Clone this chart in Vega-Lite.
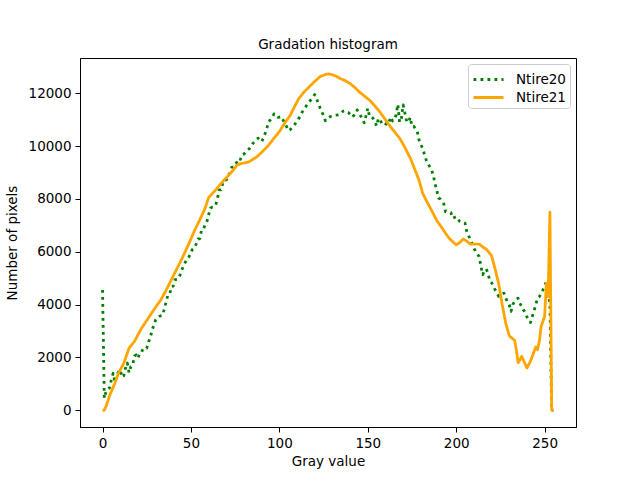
{
  "$schema": "https://vega.github.io/schema/vega-lite/v6.json",
  "width": 496,
  "height": 369,
  "autosize": {"type": "none"},
  "padding": {"left": 80, "top": 58, "right": 64, "bottom": 53},
  "background": "white",
  "title": {"text": "Gradation histogram", "fontSize": 13.5, "font": "DejaVu Sans", "fontWeight": "normal", "color": "black", "offset": 7, "anchor": "middle"},
  "data": {"values": [
{"s":"Ntire20","g":0,"n":4550},{"s":"Ntire20","g":1,"n":450},{"s":"Ntire20","g":2,"n":720},{"s":"Ntire20","g":3,"n":800},{"s":"Ntire20","g":4,"n":850},{"s":"Ntire20","g":5,"n":1150},{"s":"Ntire20","g":6,"n":1400},{"s":"Ntire20","g":7,"n":1050},{"s":"Ntire20","g":8,"n":1300},{"s":"Ntire20","g":9,"n":1450},
{"s":"Ntire20","g":10,"n":1530},{"s":"Ntire20","g":11,"n":1250},{"s":"Ntire20","g":12,"n":1300},{"s":"Ntire20","g":13,"n":1600},{"s":"Ntire20","g":14,"n":1790},{"s":"Ntire20","g":15,"n":1420},{"s":"Ntire20","g":16,"n":1650},{"s":"Ntire20","g":17,"n":1700},{"s":"Ntire20","g":18,"n":2050},{"s":"Ntire20","g":19,"n":2100},
{"s":"Ntire20","g":20,"n":1970},{"s":"Ntire20","g":21,"n":2150},{"s":"Ntire20","g":22,"n":2180},{"s":"Ntire20","g":23,"n":2350},{"s":"Ntire20","g":24,"n":2340},{"s":"Ntire20","g":25,"n":2350},{"s":"Ntire20","g":26,"n":2600},{"s":"Ntire20","g":27,"n":2730},{"s":"Ntire20","g":28,"n":3050},{"s":"Ntire20","g":29,"n":3200},
{"s":"Ntire20","g":30,"n":3420},{"s":"Ntire20","g":31,"n":3500},{"s":"Ntire20","g":32,"n":3550},{"s":"Ntire20","g":33,"n":3580},{"s":"Ntire20","g":34,"n":3600},{"s":"Ntire20","g":35,"n":3850},{"s":"Ntire20","g":36,"n":4120},{"s":"Ntire20","g":37,"n":4370},{"s":"Ntire20","g":38,"n":4400},{"s":"Ntire20","g":39,"n":4680},
{"s":"Ntire20","g":40,"n":4700},{"s":"Ntire20","g":41,"n":4940},{"s":"Ntire20","g":42,"n":4950},{"s":"Ntire20","g":43,"n":5000},{"s":"Ntire20","g":44,"n":5150},{"s":"Ntire20","g":45,"n":5340},{"s":"Ntire20","g":46,"n":5500},{"s":"Ntire20","g":47,"n":5630},{"s":"Ntire20","g":48,"n":5750},{"s":"Ntire20","g":49,"n":5820},
{"s":"Ntire20","g":50,"n":6000},{"s":"Ntire20","g":51,"n":6100},{"s":"Ntire20","g":52,"n":6150},{"s":"Ntire20","g":53,"n":6300},{"s":"Ntire20","g":54,"n":6480},{"s":"Ntire20","g":55,"n":6500},{"s":"Ntire20","g":56,"n":6830},{"s":"Ntire20","g":57,"n":6850},{"s":"Ntire20","g":58,"n":7020},{"s":"Ntire20","g":59,"n":7140},
{"s":"Ntire20","g":60,"n":7400},{"s":"Ntire20","g":61,"n":7650},{"s":"Ntire20","g":62,"n":7690},{"s":"Ntire20","g":63,"n":7700},{"s":"Ntire20","g":64,"n":7770},{"s":"Ntire20","g":65,"n":8030},{"s":"Ntire20","g":66,"n":8340},{"s":"Ntire20","g":67,"n":8340},{"s":"Ntire20","g":68,"n":8600},{"s":"Ntire20","g":69,"n":8720},
{"s":"Ntire20","g":70,"n":8720},{"s":"Ntire20","g":71,"n":8900},{"s":"Ntire20","g":72,"n":8970},{"s":"Ntire20","g":73,"n":9190},{"s":"Ntire20","g":74,"n":9200},{"s":"Ntire20","g":75,"n":9300},{"s":"Ntire20","g":76,"n":9400},{"s":"Ntire20","g":77,"n":9540},{"s":"Ntire20","g":78,"n":9500},{"s":"Ntire20","g":79,"n":9670},
{"s":"Ntire20","g":80,"n":9700},{"s":"Ntire20","g":81,"n":9770},{"s":"Ntire20","g":82,"n":9850},{"s":"Ntire20","g":83,"n":9900},{"s":"Ntire20","g":84,"n":9980},{"s":"Ntire20","g":85,"n":10100},{"s":"Ntire20","g":86,"n":10170},{"s":"Ntire20","g":87,"n":10250},{"s":"Ntire20","g":88,"n":10300},{"s":"Ntire20","g":89,"n":10200},
{"s":"Ntire20","g":90,"n":10170},{"s":"Ntire20","g":91,"n":10300},{"s":"Ntire20","g":92,"n":10490},{"s":"Ntire20","g":93,"n":10700},{"s":"Ntire20","g":94,"n":10930},{"s":"Ntire20","g":95,"n":11000},{"s":"Ntire20","g":96,"n":11090},{"s":"Ntire20","g":97,"n":11220},{"s":"Ntire20","g":98,"n":11150},{"s":"Ntire20","g":99,"n":11090},
{"s":"Ntire20","g":100,"n":11100},{"s":"Ntire20","g":101,"n":11120},{"s":"Ntire20","g":102,"n":11000},{"s":"Ntire20","g":103,"n":10870},{"s":"Ntire20","g":104,"n":10750},{"s":"Ntire20","g":105,"n":10590},{"s":"Ntire20","g":106,"n":10620},{"s":"Ntire20","g":107,"n":10680},{"s":"Ntire20","g":108,"n":10740},{"s":"Ntire20","g":109,"n":10850},
{"s":"Ntire20","g":110,"n":10950},{"s":"Ntire20","g":111,"n":11050},{"s":"Ntire20","g":112,"n":11150},{"s":"Ntire20","g":113,"n":11300},{"s":"Ntire20","g":114,"n":11400},{"s":"Ntire20","g":115,"n":11500},{"s":"Ntire20","g":116,"n":11600},{"s":"Ntire20","g":117,"n":11680},{"s":"Ntire20","g":118,"n":11770},{"s":"Ntire20","g":119,"n":11850},
{"s":"Ntire20","g":120,"n":11950},{"s":"Ntire20","g":121,"n":11800},{"s":"Ntire20","g":122,"n":11620},{"s":"Ntire20","g":123,"n":11450},{"s":"Ntire20","g":124,"n":11300},{"s":"Ntire20","g":125,"n":11150},{"s":"Ntire20","g":126,"n":10960},{"s":"Ntire20","g":127,"n":11020},{"s":"Ntire20","g":128,"n":11080},{"s":"Ntire20","g":129,"n":11120},
{"s":"Ntire20","g":130,"n":11140},{"s":"Ntire20","g":131,"n":11160},{"s":"Ntire20","g":132,"n":11170},{"s":"Ntire20","g":133,"n":11180},{"s":"Ntire20","g":134,"n":11200},{"s":"Ntire20","g":135,"n":11260},{"s":"Ntire20","g":136,"n":11320},{"s":"Ntire20","g":137,"n":11340},{"s":"Ntire20","g":138,"n":11300},{"s":"Ntire20","g":139,"n":11270},
{"s":"Ntire20","g":140,"n":11200},{"s":"Ntire20","g":141,"n":11100},{"s":"Ntire20","g":142,"n":11150},{"s":"Ntire20","g":143,"n":11250},{"s":"Ntire20","g":144,"n":11370},{"s":"Ntire20","g":145,"n":11250},{"s":"Ntire20","g":146,"n":11140},{"s":"Ntire20","g":147,"n":11000},{"s":"Ntire20","g":148,"n":10880},{"s":"Ntire20","g":149,"n":11150},
{"s":"Ntire20","g":150,"n":11430},{"s":"Ntire20","g":151,"n":11120},{"s":"Ntire20","g":152,"n":11120},{"s":"Ntire20","g":153,"n":11050},{"s":"Ntire20","g":154,"n":10930},{"s":"Ntire20","g":155,"n":10760},{"s":"Ntire20","g":156,"n":11050},{"s":"Ntire20","g":157,"n":10980},{"s":"Ntire20","g":158,"n":10850},{"s":"Ntire20","g":159,"n":10900},
{"s":"Ntire20","g":160,"n":10850},{"s":"Ntire20","g":161,"n":10800},{"s":"Ntire20","g":162,"n":10900},{"s":"Ntire20","g":163,"n":11100},{"s":"Ntire20","g":164,"n":10950},{"s":"Ntire20","g":165,"n":11000},{"s":"Ntire20","g":166,"n":11180},{"s":"Ntire20","g":167,"n":11580},{"s":"Ntire20","g":168,"n":10900},{"s":"Ntire20","g":169,"n":11050},
{"s":"Ntire20","g":170,"n":11560},{"s":"Ntire20","g":171,"n":11240},{"s":"Ntire20","g":172,"n":10930},{"s":"Ntire20","g":173,"n":10900},{"s":"Ntire20","g":174,"n":11090},{"s":"Ntire20","g":175,"n":10740},{"s":"Ntire20","g":176,"n":10750},{"s":"Ntire20","g":177,"n":10650},{"s":"Ntire20","g":178,"n":10550},{"s":"Ntire20","g":179,"n":10230},
{"s":"Ntire20","g":180,"n":10050},{"s":"Ntire20","g":181,"n":9920},{"s":"Ntire20","g":182,"n":9700},{"s":"Ntire20","g":183,"n":9480},{"s":"Ntire20","g":184,"n":9350},{"s":"Ntire20","g":185,"n":9220},{"s":"Ntire20","g":186,"n":9100},{"s":"Ntire20","g":187,"n":8910},{"s":"Ntire20","g":188,"n":8580},{"s":"Ntire20","g":189,"n":8320},
{"s":"Ntire20","g":190,"n":8030},{"s":"Ntire20","g":191,"n":8000},{"s":"Ntire20","g":192,"n":7900},{"s":"Ntire20","g":193,"n":7810},{"s":"Ntire20","g":194,"n":7520},{"s":"Ntire20","g":195,"n":7500},{"s":"Ntire20","g":196,"n":7500},{"s":"Ntire20","g":197,"n":7480},{"s":"Ntire20","g":198,"n":7270},{"s":"Ntire20","g":199,"n":7300},
{"s":"Ntire20","g":200,"n":7330},{"s":"Ntire20","g":201,"n":7250},{"s":"Ntire20","g":202,"n":7140},{"s":"Ntire20","g":203,"n":7100},{"s":"Ntire20","g":204,"n":7090},{"s":"Ntire20","g":205,"n":7080},{"s":"Ntire20","g":206,"n":6760},{"s":"Ntire20","g":207,"n":6600},{"s":"Ntire20","g":208,"n":6480},{"s":"Ntire20","g":209,"n":6300},
{"s":"Ntire20","g":210,"n":6140},{"s":"Ntire20","g":211,"n":6000},{"s":"Ntire20","g":212,"n":5900},{"s":"Ntire20","g":213,"n":5820},{"s":"Ntire20","g":214,"n":5440},{"s":"Ntire20","g":215,"n":5130},{"s":"Ntire20","g":216,"n":5300},{"s":"Ntire20","g":217,"n":5340},{"s":"Ntire20","g":218,"n":5190},{"s":"Ntire20","g":219,"n":4900},
{"s":"Ntire20","g":220,"n":4830},{"s":"Ntire20","g":221,"n":4700},{"s":"Ntire20","g":222,"n":4560},{"s":"Ntire20","g":223,"n":4450},{"s":"Ntire20","g":224,"n":4310},{"s":"Ntire20","g":225,"n":4350},{"s":"Ntire20","g":226,"n":4400},{"s":"Ntire20","g":227,"n":4430},{"s":"Ntire20","g":228,"n":4250},{"s":"Ntire20","g":229,"n":4100},
{"s":"Ntire20","g":230,"n":3990},{"s":"Ntire20","g":231,"n":3740},{"s":"Ntire20","g":232,"n":4000},{"s":"Ntire20","g":233,"n":4120},{"s":"Ntire20","g":234,"n":4200},{"s":"Ntire20","g":235,"n":4240},{"s":"Ntire20","g":236,"n":4050},{"s":"Ntire20","g":237,"n":3930},{"s":"Ntire20","g":238,"n":3800},{"s":"Ntire20","g":239,"n":3700},
{"s":"Ntire20","g":240,"n":3530},{"s":"Ntire20","g":241,"n":3400},{"s":"Ntire20","g":242,"n":3320},{"s":"Ntire20","g":243,"n":3550},{"s":"Ntire20","g":244,"n":3750},{"s":"Ntire20","g":245,"n":4000},{"s":"Ntire20","g":246,"n":4240},{"s":"Ntire20","g":247,"n":4300},{"s":"Ntire20","g":248,"n":4410},{"s":"Ntire20","g":249,"n":4550},
{"s":"Ntire20","g":250,"n":4700},{"s":"Ntire20","g":251,"n":4870},{"s":"Ntire20","g":252,"n":4500},{"s":"Ntire20","g":253,"n":4000},{"s":"Ntire20","g":254,"n":0},{"s":"Ntire20","g":255,"n":0},
{"s":"Ntire21","g":0,"n":0},{"s":"Ntire21","g":1,"n":0},{"s":"Ntire21","g":2,"n":150},{"s":"Ntire21","g":4,"n":550},{"s":"Ntire21","g":7,"n":1030},{"s":"Ntire21","g":9,"n":1400},{"s":"Ntire21","g":12,"n":1780},{"s":"Ntire21","g":15,"n":2350},{"s":"Ntire21","g":17,"n":2520},{"s":"Ntire21","g":18,"n":2600},
{"s":"Ntire21","g":20,"n":2850},{"s":"Ntire21","g":22,"n":3100},{"s":"Ntire21","g":25,"n":3400},{"s":"Ntire21","g":28,"n":3700},{"s":"Ntire21","g":30,"n":3900},{"s":"Ntire21","g":33,"n":4180},{"s":"Ntire21","g":36,"n":4550},{"s":"Ntire21","g":39,"n":4950},{"s":"Ntire21","g":42,"n":5350},{"s":"Ntire21","g":45,"n":5750},
{"s":"Ntire21","g":49,"n":6330},{"s":"Ntire21","g":52,"n":6800},{"s":"Ntire21","g":55,"n":7210},{"s":"Ntire21","g":58,"n":7650},{"s":"Ntire21","g":60,"n":8050},{"s":"Ntire21","g":62,"n":8200},{"s":"Ntire21","g":64,"n":8340},{"s":"Ntire21","g":66,"n":8500},{"s":"Ntire21","g":68,"n":8660},{"s":"Ntire21","g":70,"n":8800},
{"s":"Ntire21","g":72,"n":8950},{"s":"Ntire21","g":74,"n":9100},{"s":"Ntire21","g":76,"n":9280},{"s":"Ntire21","g":78,"n":9330},{"s":"Ntire21","g":80,"n":9360},{"s":"Ntire21","g":83,"n":9410},{"s":"Ntire21","g":85,"n":9500},{"s":"Ntire21","g":87,"n":9580},{"s":"Ntire21","g":89,"n":9700},{"s":"Ntire21","g":91,"n":9830},
{"s":"Ntire21","g":94,"n":10040},{"s":"Ntire21","g":97,"n":10300},{"s":"Ntire21","g":100,"n":10550},{"s":"Ntire21","g":103,"n":10870},{"s":"Ntire21","g":106,"n":11150},{"s":"Ntire21","g":109,"n":11550},{"s":"Ntire21","g":111,"n":11800},{"s":"Ntire21","g":114,"n":12050},{"s":"Ntire21","g":117,"n":12250},{"s":"Ntire21","g":120,"n":12450},
{"s":"Ntire21","g":123,"n":12630},{"s":"Ntire21","g":126,"n":12710},{"s":"Ntire21","g":128,"n":12730},{"s":"Ntire21","g":130,"n":12700},{"s":"Ntire21","g":132,"n":12650},{"s":"Ntire21","g":134,"n":12570},{"s":"Ntire21","g":137,"n":12480},{"s":"Ntire21","g":140,"n":12370},{"s":"Ntire21","g":143,"n":12200},{"s":"Ntire21","g":145,"n":12060},
{"s":"Ntire21","g":148,"n":11900},{"s":"Ntire21","g":151,"n":11740},{"s":"Ntire21","g":154,"n":11520},{"s":"Ntire21","g":157,"n":11280},{"s":"Ntire21","g":160,"n":11000},{"s":"Ntire21","g":162,"n":10800},{"s":"Ntire21","g":165,"n":10550},{"s":"Ntire21","g":168,"n":10300},{"s":"Ntire21","g":171,"n":9950},{"s":"Ntire21","g":174,"n":9550},
{"s":"Ntire21","g":177,"n":9050},{"s":"Ntire21","g":179,"n":8700},{"s":"Ntire21","g":181,"n":8220},{"s":"Ntire21","g":183,"n":7950},{"s":"Ntire21","g":185,"n":7700},{"s":"Ntire21","g":187,"n":7450},{"s":"Ntire21","g":189,"n":7180},{"s":"Ntire21","g":192,"n":6900},{"s":"Ntire21","g":194,"n":6700},{"s":"Ntire21","g":196,"n":6510},
{"s":"Ntire21","g":198,"n":6380},{"s":"Ntire21","g":200,"n":6260},{"s":"Ntire21","g":202,"n":6350},{"s":"Ntire21","g":204,"n":6480},{"s":"Ntire21","g":206,"n":6400},{"s":"Ntire21","g":208,"n":6290},{"s":"Ntire21","g":211,"n":6290},{"s":"Ntire21","g":213,"n":6290},{"s":"Ntire21","g":215,"n":6180},{"s":"Ntire21","g":217,"n":6100},
{"s":"Ntire21","g":220,"n":5850},{"s":"Ntire21","g":222,"n":5350},{"s":"Ntire21","g":224,"n":4800},{"s":"Ntire21","g":226,"n":4000},{"s":"Ntire21","g":228,"n":3300},{"s":"Ntire21","g":230,"n":2820},{"s":"Ntire21","g":232,"n":2700},{"s":"Ntire21","g":233,"n":2650},{"s":"Ntire21","g":234,"n":2300},{"s":"Ntire21","g":235,"n":1800},
{"s":"Ntire21","g":236,"n":1900},{"s":"Ntire21","g":237,"n":2040},{"s":"Ntire21","g":238,"n":1900},{"s":"Ntire21","g":240,"n":1600},{"s":"Ntire21","g":242,"n":1850},{"s":"Ntire21","g":243,"n":2040},{"s":"Ntire21","g":245,"n":2400},{"s":"Ntire21","g":246,"n":2290},{"s":"Ntire21","g":247,"n":2600},{"s":"Ntire21","g":248,"n":3170},
{"s":"Ntire21","g":250,"n":3550},{"s":"Ntire21","g":251,"n":4800},{"s":"Ntire21","g":252,"n":4300},{"s":"Ntire21","g":253,"n":7500},{"s":"Ntire21","g":254,"n":0},{"s":"Ntire21","g":255,"n":0}
  ]},
  "mark": {"type": "line", "strokeWidth": 2.8, "strokeCap": "butt", "strokeJoin": "round", "interpolate": "linear"},
  "encoding": {
    "x": {"field": "g", "type": "quantitative", "scale": {"domain": [-12.75, 267.75], "nice": false, "zero": false}, "axis": {"title": "Gray value", "values": [0, 50, 100, 150, 200, 250]}},
    "y": {"field": "n", "type": "quantitative", "scale": {"domain": [-635, 13335], "nice": false, "zero": false}, "axis": {"title": "Number of pixels", "values": [0, 2000, 4000, 6000, 8000, 10000, 12000], "format": "d"}},
    "color": {"field": "s", "type": "nominal", "scale": {"domain": ["Ntire20", "Ntire21"], "range": ["green", "orange"]}, "legend": {"title": null, "orient": "none", "legendX": 388, "legendY": 6}},
    "strokeDash": {"field": "s", "type": "nominal", "scale": {"domain": ["Ntire20", "Ntire21"], "range": [[2.8, 4.2], [1, 0]]}, "legend": {"title": null, "orient": "none", "legendX": 388, "legendY": 6}}
  },
  "config": {
    "font": "DejaVu Sans",
    "view": {"stroke": "black", "strokeWidth": 1},
    "axis": {"domain": true, "domainColor": "black", "domainWidth": 1, "ticks": true, "tickColor": "black", "tickSize": 5, "tickWidth": 1, "labelFontSize": 13.5, "labelColor": "black", "labelFont": "DejaVu Sans", "titleFont": "DejaVu Sans", "titleFontSize": 13.5, "titleFontWeight": "normal", "titleColor": "black", "grid": false, "labelPadding": 4, "labelFlush": false, "labelOverlap": false},
    "axisX": {"titlePadding": 5},
    "axisY": {"titlePadding": 9},
    "legend": {"fillColor": "white", "strokeColor": "#cccccc", "cornerRadius": 3, "padding": 4, "symbolType": "M-1.5,0H1.5", "symbolSize": 400, "symbolStrokeWidth": 2.8, "labelFontSize": 13.5, "labelFont": "DejaVu Sans", "labelColor": "black", "labelOffset": 16, "rowPadding": 0, "symbolOffset": 5}
  }
}
